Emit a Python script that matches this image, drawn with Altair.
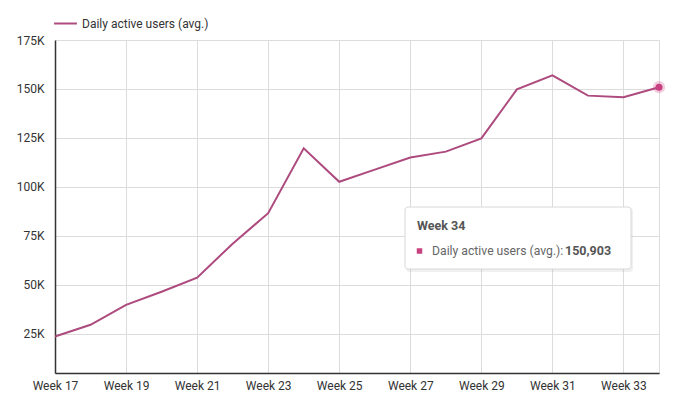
import altair as alt
import pandas as pd

weeks = list(range(17, 35))
users = [23600, 29600, 39800, 46500, 53700, 71000, 86600, 119700, 102600,
         108800, 115000, 118000, 124800, 149800, 157000, 146600, 145800, 150903]
series_name = "Daily active users (avg.)"
x_ticks = [17, 19, 21, 23, 25, 27, 29, 31, 33, 34]
y_ticks = [25000, 50000, 75000, 100000, 125000, 150000, 175000]

df = pd.DataFrame({"week": weeks, "users": users, "series": series_name})
last = df.tail(1)

FONT = "Roboto"
LINE = "#ad4a7e"
PT = "#c8407f"

x = alt.X("week:Q", scale=alt.Scale(domain=[17, 34], nice=False),
          axis=alt.Axis(values=x_ticks, title=None,
                        labelExpr="datum.value == 34 ? '' : 'Week ' + datum.value",
                        labelFont=FONT, labelFontSize=12, labelColor="#333",
                        domainColor="#333", domainWidth=1.5, ticks=False,
                        labelPadding=7, gridColor="#dcdcdc", labelFlush=False))
y = alt.Y("users:Q", scale=alt.Scale(domain=[5000, 175000], nice=False, zero=False),
          axis=alt.Axis(values=y_ticks, title=None,
                        labelExpr="datum.value / 1000 + 'K'",
                        labelFont=FONT, labelFontSize=12, labelColor="#333",
                        domainColor="#333", domainWidth=1.5, ticks=False,
                        labelPadding=11, gridColor="#dcdcdc"))

line = alt.Chart(df).mark_line(strokeWidth=2).encode(
    x=x, y=y,
    color=alt.Color("series:N", scale=alt.Scale(range=[LINE]),
                    legend=alt.Legend(orient="none", legendX=-2, legendY=-29,
                                      title=None, symbolType="stroke",
                                      symbolSize=520, symbolStrokeWidth=2,
                                      labelFont=FONT, labelFontSize=12,
                                      labelColor="#333")))

halo = alt.Chart(last).mark_circle(size=150, color=PT, opacity=0.25).encode(x="week:Q", y="users:Q")
dot = alt.Chart(last).mark_circle(size=50, color=PT, opacity=1).encode(x="week:Q", y="users:Q")

box = alt.Chart(last).mark_rect(fill="white", stroke="#d8d8d8", strokeWidth=1,
                                cornerRadius=3).encode(
    x=alt.value(350), x2=alt.value(576), y=alt.value(167), y2=alt.value(229))
shadow = alt.Chart(last).mark_rect(fill="#000", opacity=0.06, cornerRadius=3).encode(
    x=alt.value(351), x2=alt.value(578), y=alt.value(168), y2=alt.value(232))

title_t = alt.Chart(last).transform_calculate(lbl="'Week ' + datum.week").mark_text(
    align="left", baseline="middle", font=FONT, fontSize=12.5, fontWeight="bold",
    color="#555").encode(x=alt.value(362), y=alt.value(186), text="lbl:N")

sq = alt.Chart(last).mark_square(size=30, color=PT, opacity=1).encode(
    x=alt.value(364.5), y=alt.value(211))
lab = alt.Chart(last).transform_calculate(lbl="datum.series + ':'").mark_text(
    align="left", baseline="middle", font=FONT, fontSize=12.2, color="#666").encode(
    x=alt.value(377), y=alt.value(211), text="lbl:N")
val = alt.Chart(last).mark_text(align="left", baseline="middle", font=FONT,
                                fontSize=12.5, fontWeight="bold", color="#555").encode(
    x=alt.value(510), y=alt.value(211), text=alt.Text("users:Q", format=","))

chart = alt.layer(line, halo, dot, shadow, box, title_t, sq, lab, val).properties(
    width=604, height=333,
    padding={"left": 47, "top": 32, "right": 20, "bottom": 20},
    autosize=alt.AutoSizeParams(type="none"),
).configure_view(stroke=None).configure(background="white")

chart.save("out.html", embed_options={"renderer": "svg", "actions": False})
